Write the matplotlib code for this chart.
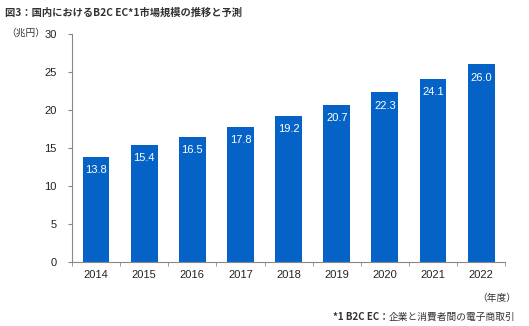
import numpy as np
import matplotlib.pyplot as plt

plt.rcParams['font.family'] = ['Noto Sans CJK JP', 'DejaVu Sans']

# 国内B2C EC市場規模（兆円）
years = ['2014', '2015', '2016', '2017', '2018', '2019', '2020', '2021', '2022']
market = [13.8, 15.4, 16.5, 17.8, 19.2, 20.7, 22.3, 24.1, 26.0]
yticks = [0, 5, 10, 15, 20, 25, 30]

num_font = 'Liberation Sans'

fig = plt.figure(figsize=(5.29, 3.26), dpi=100)
ax = fig.add_axes([0.136, 0.196, 0.819, 0.70])

x = np.arange(len(years))
ax.bar(x, market, width=0.56, color='#0563C8', zorder=2)

# 棒の中に値を白で
for xi, v in zip(x, market):
    ax.text(xi, v - 1.1, f'{v:.1f}', ha='center', va='top', color='white',
            fontsize=8, family=num_font)

ax.set_xlim(-0.5, len(years) - 0.5)
ax.set_ylim(0, 30)
ax.set_yticks(yticks)
ax.set_yticklabels([str(t) for t in yticks], fontsize=8, family=num_font, color='#222222')
ax.set_xticks(x)
ax.set_xticklabels(years, fontsize=8, family=num_font, color='#222222')
ax.tick_params(axis='x', length=0, pad=6)
# 目盛りは棒と棒の間
ax.set_xticks(np.arange(-0.5, len(years)), minor=True)
ax.tick_params(axis='x', which='minor', length=3, color='#888888')
ax.tick_params(axis='y', length=3, color='#888888', pad=8)

for s in ['top', 'right']:
    ax.spines[s].set_visible(False)
for s in ['left', 'bottom']:
    ax.spines[s].set_color('#888888')
    ax.spines[s].set_linewidth(0.8)

fig.text(0.01, 0.962, '図3：国内におけるB2C EC*1市場規模の推移と予測',
         fontsize=7.4, color='#333333', ha='left', va='center', weight='bold')
fig.text(0.012, 0.898, '（兆円）', fontsize=7, color='#333333', ha='left', va='center')
fig.text(0.975, 0.087, '（年度）', fontsize=7, color='#333333', ha='right', va='center')

note = fig.text(0.975, 0.027, '企業と消費者間の電子商取引', fontsize=7,
                color='#333333', ha='right', va='center')
ax.annotate('*1 B2C EC：', xy=(0, 0.5), xycoords=note, ha='right', va='center',
            fontsize=7, color='#333333', weight='bold', annotation_clip=False)

fig.savefig('out.png', dpi=100)
